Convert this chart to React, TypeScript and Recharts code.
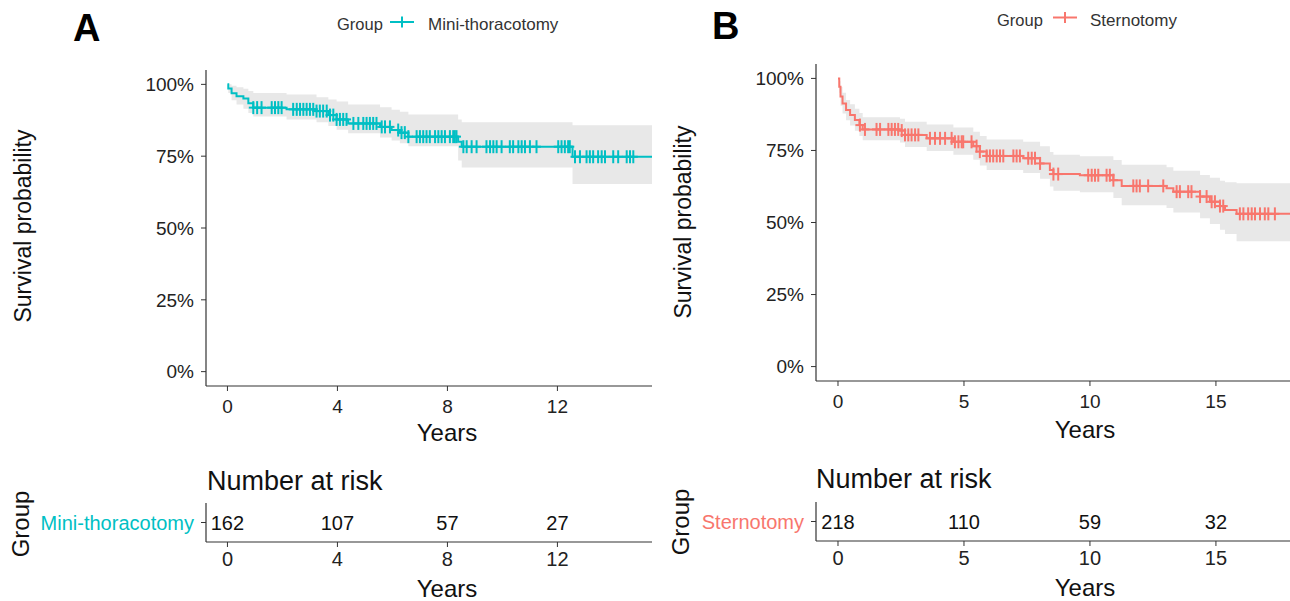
import React from "react";
import { ComposedChart, Line, Area, Scatter, XAxis, YAxis } from "recharts";

const TEAL = "#00BFC4";
const SALMON = "#F8766D";
const FONT = "'Liberation Sans', Arial, Helvetica, sans-serif";
const AXIS = "#333333";

// A: Mini-thoracotomy (years, survival, 95% CI)
const miniTimes = [0, 0.03, 0.15, 0.33, 0.58, 0.76, 0.94, 2.15, 3.24, 3.67, 3.97, 4.39, 5.55, 5.97, 6.27, 6.58, 8.39, 8.52, 12.55, 15.44];
const miniSurv = [1, 0.986, 0.969, 0.959, 0.951, 0.934, 0.919, 0.913, 0.907, 0.893, 0.878, 0.864, 0.852, 0.841, 0.832, 0.818, 0.8, 0.783, 0.748, 0.748];
const miniUpper = [1, 1, 0.995, 0.99, 0.985, 0.977, 0.97, 0.965, 0.955, 0.947, 0.94, 0.93, 0.92, 0.912, 0.905, 0.895, 0.878, 0.868, 0.858, 0.858];
const miniLower = [1, 0.97, 0.945, 0.93, 0.915, 0.9, 0.888, 0.878, 0.868, 0.855, 0.842, 0.83, 0.815, 0.805, 0.795, 0.785, 0.735, 0.711, 0.653, 0.653];
const miniCensored = [
  0.94, 1.08, 1.24, 1.61, 1.73, 1.85, 1.97, 2.39, 2.52, 2.64, 2.76, 2.88, 3.0, 3.12, 3.24, 3.36, 3.48,
  3.61, 3.73, 3.85, 3.97, 4.09, 4.21, 4.33, 4.58, 4.76, 4.94, 5.06, 5.18, 5.3, 5.42, 5.61, 5.73, 5.91,
  6.21, 6.33, 6.45, 6.58, 6.88, 7.0, 7.12, 7.24, 7.36, 7.55, 7.67, 7.79, 7.91, 8.09, 8.21, 8.27, 8.33,
  8.58, 8.7, 8.88, 9.06, 9.42, 9.55, 9.67, 9.79, 9.97, 10.27, 10.39, 10.58, 10.7, 10.82, 11.0, 11.24,
  12.03, 12.15, 12.27, 12.39, 12.45, 12.64, 12.82, 13.06, 13.18, 13.3, 13.48, 13.61, 13.73, 14.03,
  14.21, 14.52, 14.64, 14.76,
];
const miniTicks = [0, 4, 8, 12];
const miniAtRisk = [162, 107, 57, 27];

// B: Sternotomy
const sternTimes = [0, 0.05, 0.1, 0.18, 0.32, 0.48, 0.67, 0.85, 0.98, 2.46, 2.66, 3.52, 4.58, 5.37, 5.63, 5.9, 7.35, 8.02, 8.41, 8.55, 9.6, 10.93, 11.26, 13.04, 13.31, 14.37, 14.76, 15.16, 15.36, 15.82, 17.94];
const sternSurv = [1, 0.971, 0.937, 0.913, 0.89, 0.873, 0.856, 0.838, 0.823, 0.819, 0.804, 0.792, 0.78, 0.765, 0.746, 0.731, 0.723, 0.705, 0.682, 0.668, 0.664, 0.647, 0.627, 0.619, 0.607, 0.59, 0.572, 0.557, 0.543, 0.53, 0.53];
const sternUpper = [1, 0.99, 0.97, 0.95, 0.925, 0.91, 0.895, 0.88, 0.865, 0.86, 0.85, 0.84, 0.83, 0.815, 0.8, 0.788, 0.78, 0.765, 0.745, 0.735, 0.73, 0.717, 0.7, 0.692, 0.68, 0.665, 0.655, 0.645, 0.64, 0.636, 0.636];
const sternLower = [1, 0.95, 0.905, 0.878, 0.855, 0.837, 0.818, 0.8, 0.785, 0.778, 0.762, 0.748, 0.735, 0.718, 0.698, 0.682, 0.672, 0.652, 0.625, 0.61, 0.605, 0.585, 0.56, 0.55, 0.535, 0.515, 0.495, 0.475, 0.46, 0.435, 0.435];
const sternCensored = [
  0.87, 1.07, 1.53, 1.67, 2.0, 2.13, 2.26, 2.39, 2.53, 2.66, 2.79, 2.92, 3.06, 3.19, 3.65, 3.85, 4.05,
  4.25, 4.51, 4.64, 4.78, 4.91, 4.97, 5.3, 5.5, 5.63, 5.9, 6.03, 6.16, 6.3, 6.43, 6.56, 6.96, 7.09,
  7.22, 7.55, 7.69, 7.82, 8.02, 8.55, 8.74, 9.93, 10.07, 10.2, 10.33, 10.66, 10.79, 10.93, 11.72,
  11.85, 11.98, 12.31, 12.91, 13.44, 13.57, 13.9, 14.03, 14.37, 14.63, 14.83, 14.96, 15.16, 15.29,
  15.95, 16.09, 16.28, 16.42, 16.55, 16.75, 16.94, 17.08, 17.34,
];
const sternTicks = [0, 5, 10, 15];
const sternAtRisk = [218, 110, 59, 32];

const pctTicks = [0, 0.25, 0.5, 0.75, 1];

function survAt(times: number[], surv: number[], t: number) {
  let v = surv[0];
  for (let i = 0; i < times.length; i++) {
    if (times[i] <= t) v = surv[i];
  }
  return v;
}

function Plus(props: any) {
  const { cx, cy, fill } = props;
  return (
    <g stroke={fill} strokeWidth={2}>
      <line x1={cx} x2={cx} y1={cy - 6.5} y2={cy + 6.5} />
      <line x1={cx - 4.5} x2={cx + 4.5} y1={cy} y2={cy} />
    </g>
  );
}

function RiskText(props: any) {
  const { cx, cy, payload } = props;
  return (
    <text x={cx} y={cy + 7} textAnchor="middle" fontSize={20} fontFamily={FONT} fill="#111">
      {payload.n}
    </text>
  );
}

interface KmProps {
  left: number;
  width: number;
  yAxisWidth: number;
  top: number;
  bottom: number;
  domain: [number, number];
  ticks: number[];
  times: number[];
  surv: number[];
  upper: number[];
  lower: number[];
  censored: number[];
  color: string;
  xTickMargin: number;
}

function KmChart(p: KmProps) {
  const curve = p.times.map((t, i) => ({ t, s: p.surv[i], ci: [p.lower[i], p.upper[i]] }));
  const marks = p.censored.map((t) => ({ t, s: survAt(p.times, p.surv, t) }));
  const height = 450;
  return (
    <div style={{ position: "absolute", left: p.left, top: 0, width: p.width, height }}>
      <ComposedChart
        width={p.width}
        height={height}
        margin={{ top: p.top, right: 0, bottom: height - p.bottom - 60, left: 0 }}
      >
        <XAxis
          dataKey="t"
          type="number"
          domain={p.domain}
          ticks={p.ticks}
          allowDataOverflow
          height={60}
          tickSize={5}
          tickMargin={p.xTickMargin}
          stroke={AXIS}
          tick={{ fill: "#222", fontSize: 19, fontFamily: FONT }}
          axisLine={{ stroke: AXIS, strokeWidth: 1.2 }}
        />
        <YAxis
          type="number"
          domain={[-0.05, 1.05]}
          ticks={pctTicks}
          allowDataOverflow
          width={p.yAxisWidth}
          tickSize={5}
          tickMargin={7}
          stroke={AXIS}
          tickFormatter={(v: number) => `${Math.round(v * 100)}%`}
          tick={{ fill: "#222", fontSize: 19, fontFamily: FONT }}
          axisLine={{ stroke: AXIS, strokeWidth: 1.2 }}
        />
        <Area
          data={curve}
          dataKey="ci"
          type="stepAfter"
          fill="#e8e8e8"
          fillOpacity={1}
          stroke="none"
          isAnimationActive={false}
        />
        <Line
          data={curve}
          dataKey="s"
          type="stepAfter"
          stroke={p.color}
          strokeWidth={2}
          dot={false}
          isAnimationActive={false}
        />
        <Scatter data={marks} dataKey="s" fill={p.color} shape={<Plus />} isAnimationActive={false} />
      </ComposedChart>
    </div>
  );
}

interface RiskProps {
  left: number;
  width: number;
  yAxisWidth: number;
  top: number;
  domain: [number, number];
  ticks: number[];
  counts: number[];
  group: string;
  color: string;
}

function RiskTable(p: RiskProps) {
  const rows = p.ticks.map((t, i) => ({ t, y: 1, n: p.counts[i] }));
  return (
    <div style={{ position: "absolute", left: p.left, top: p.top, width: p.width, height: 106 }}>
      <ComposedChart width={p.width} height={106} margin={{ top: 8, right: 0, bottom: 0, left: 0 }}>
        <XAxis
          dataKey="t"
          type="number"
          domain={p.domain}
          ticks={p.ticks}
          allowDataOverflow
          height={59}
          tickSize={5}
          tickMargin={5}
          stroke={AXIS}
          tick={{ fill: "#222", fontSize: 20, fontFamily: FONT }}
          axisLine={{ stroke: AXIS, strokeWidth: 1.2 }}
        />
        <YAxis
          type="number"
          domain={[0, 2]}
          ticks={[1]}
          width={p.yAxisWidth}
          tickSize={5}
          tickMargin={7}
          stroke={AXIS}
          tickFormatter={() => p.group}
          tick={{ fill: p.color, fontSize: 20, fontFamily: FONT }}
          axisLine={{ stroke: AXIS, strokeWidth: 1.2 }}
        />
        <Scatter data={rows} dataKey="y" shape={<RiskText />} isAnimationActive={false} />
      </ComposedChart>
    </div>
  );
}

function LegendKey({ x, y, color }: { x: number; y: number; color: string }) {
  return (
    <g stroke={color} strokeWidth={2}>
      <line x1={x} x2={x + 24} y1={y} y2={y} />
      <line x1={x + 12} x2={x + 12} y1={y - 5.5} y2={y + 5.5} />
    </g>
  );
}

function Labels() {
  const t = { fontFamily: FONT, fill: "#111" };
  return (
    <svg
      width={1290}
      height={601}
      style={{ position: "absolute", left: 0, top: 0, pointerEvents: "none" }}
    >
      {/* panel A */}
      <text x={73} y={41} fontSize={38} fontWeight="bold" {...t} fill="#000">A</text>
      <text x={337} y={30} fontSize={16.5} {...t} fill="#333">Group</text>
      <LegendKey x={390} y={22} color={TEAL} />
      <text x={428} y={30} fontSize={17} {...t} fill="#333">Mini-thoracotomy</text>
      <text transform="translate(31,226) rotate(-90)" textAnchor="middle" fontSize={23} {...t}>
        Survival probability
      </text>
      <text x={447} y={441} textAnchor="middle" fontSize={24} {...t}>Years</text>
      <text x={207} y={490} fontSize={27} {...t}>Number at risk</text>
      <text transform="translate(29,524) rotate(-90)" textAnchor="middle" fontSize={24} {...t}>
        Group
      </text>
      <text x={447} y={597} textAnchor="middle" fontSize={24} {...t}>Years</text>

      {/* panel B */}
      <text x={712} y={39} fontSize={38} fontWeight="bold" {...t} fill="#000">B</text>
      <text x={997} y={26} fontSize={16.5} {...t} fill="#333">Group</text>
      <LegendKey x={1053} y={17.5} color={SALMON} />
      <text x={1090} y={26} fontSize={17} {...t} fill="#333">Sternotomy</text>
      <text transform="translate(691,222) rotate(-90)" textAnchor="middle" fontSize={23} {...t}>
        Survival probability
      </text>
      <text x={1085} y={438} textAnchor="middle" fontSize={24} {...t}>Years</text>
      <text x={816} y={488} fontSize={27} {...t}>Number at risk</text>
      <text transform="translate(689,522) rotate(-90)" textAnchor="middle" fontSize={24} {...t}>
        Group
      </text>
      <text x={1085} y={596} textAnchor="middle" fontSize={24} {...t}>Years</text>
    </svg>
  );
}

export default function App() {
  return (
    <div
      style={{
        position: "fixed",
        left: 0,
        top: 0,
        width: 1290,
        height: 601,
        overflow: "hidden",
        background: "#fff",
        fontFamily: FONT,
      }}
    >
      <KmChart
        left={0}
        width={652}
        yAxisWidth={206}
        top={70}
        bottom={386}
        domain={[-0.78, 15.44]}
        ticks={miniTicks}
        times={miniTimes}
        surv={miniSurv}
        upper={miniUpper}
        lower={miniLower}
        censored={miniCensored}
        color={TEAL}
        xTickMargin={9}
      />
      <KmChart
        left={660}
        width={630}
        yAxisWidth={156}
        top={64}
        bottom={381}
        domain={[-0.873, 17.94]}
        ticks={sternTicks}
        times={sternTimes}
        surv={sternSurv}
        upper={sternUpper}
        lower={sternLower}
        censored={sternCensored}
        color={SALMON}
        xTickMargin={9}
      />
      <RiskTable
        left={0}
        width={652}
        yAxisWidth={206}
        top={495}
        domain={[-0.78, 15.44]}
        ticks={miniTicks}
        counts={miniAtRisk}
        group="Mini-thoracotomy"
        color={TEAL}
      />
      <RiskTable
        left={660}
        width={630}
        yAxisWidth={156}
        top={494}
        domain={[-0.873, 17.94]}
        ticks={sternTicks}
        counts={sternAtRisk}
        group="Sternotomy"
        color={SALMON}
      />
      <Labels />
    </div>
  );
}
